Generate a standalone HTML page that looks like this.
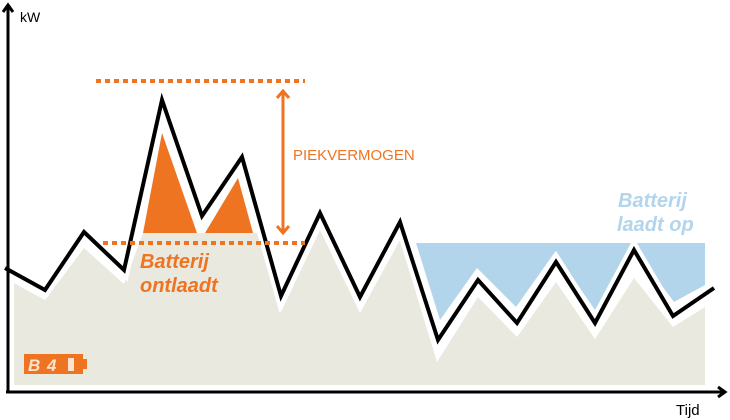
<!DOCTYPE html>
<html><head><style>
html,body{margin:0;padding:0;background:#fff;}
svg{display:block;font-family:"Liberation Sans",sans-serif;}
</style></head><body>
<svg width="730" height="420" viewBox="0 0 730 420">
<polygon fill="#eae9df" points="14,283 45,300 84,248 124,284 143,233 259,233 281,312 320,230 360,313 400,240 437,362 478,297 517,337 556,282 595,339 634,278 673,327 705,307 705,385 14,385"/>
<polygon fill="#b3d5ec" points="416,243 705,243 705,285 674,302 634,248 595,310 555,252 516,307 477,268 440,320"/>
<polygon fill="#ef7421" points="143,233 162,133 197,233"/>
<polygon fill="#ef7421" points="205,233 238,178 253,233"/>
<polyline fill="none" stroke="#fff" stroke-width="12" stroke-linejoin="miter" points="5,268 45,290 84,232 124,270 162,100 202,216 242,157 281,296 320,213 360,297 400,222 438,340 478,280 517,323 556,262 595,323 634,250 673,316 714,288"/>
<polyline fill="none" stroke="#000" stroke-width="4" stroke-linejoin="miter" points="5,268 45,290 84,232 124,270 162,100 202,216 242,157 281,296 320,213 360,297 400,222 438,340 478,280 517,323 556,262 595,323 634,250 673,316 714,288"/>
<line x1="96" y1="81" x2="305" y2="81" stroke="#ef7421" stroke-width="4" stroke-dasharray="5,4"/>
<line x1="103" y1="243" x2="305" y2="243" stroke="#ef7421" stroke-width="4" stroke-dasharray="5,4"/>
<line x1="283" y1="92" x2="283" y2="232" stroke="#ef7421" stroke-width="3"/>
<polyline fill="none" stroke="#ef7421" stroke-width="3" points="277,98 283,91 289,98"/>
<polyline fill="none" stroke="#ef7421" stroke-width="3" points="277,226 283,233 289,226"/>
<text x="293" y="160" fill="#ef7421" font-size="15">PIEKVERMOGEN</text>
<text x="140" y="268" fill="#ef7421" font-size="20" font-weight="bold" font-style="italic">Batterij</text>
<text x="140" y="292" fill="#ef7421" font-size="20" font-weight="bold" font-style="italic">ontlaadt</text>
<text x="618" y="207" fill="#b3d5ec" font-size="20" font-weight="bold" font-style="italic">Batterij</text>
<text x="617" y="231" fill="#b3d5ec" font-size="20" font-weight="bold" font-style="italic">laadt op</text>
<line x1="8" y1="6" x2="8" y2="392" stroke="#000" stroke-width="3"/>
<polyline fill="none" stroke="#000" stroke-width="3" points="3,12 8,5 13,12"/>
<line x1="6" y1="392" x2="725" y2="392" stroke="#000" stroke-width="3"/>
<polyline fill="none" stroke="#000" stroke-width="3" points="718,387 725,392 718,397"/>
<text x="20" y="22" font-size="14" fill="#000">kW</text>
<text x="676" y="415" font-size="15" fill="#000">Tijd</text>
<g>
<rect x="24" y="354" width="59" height="20" fill="#ef7421"/>
<rect x="83" y="359" width="4" height="10" fill="#ef7421"/>
<text x="28" y="371" font-size="17" font-weight="bold" font-style="italic" fill="#fbe3d0">B</text>
<text x="47" y="371" font-size="17" font-weight="bold" font-style="italic" fill="#fbe3d0">4</text>
<rect x="68" y="358" width="6" height="13" fill="#fbe3d0"/>
</g>
</svg>
</body></html>
